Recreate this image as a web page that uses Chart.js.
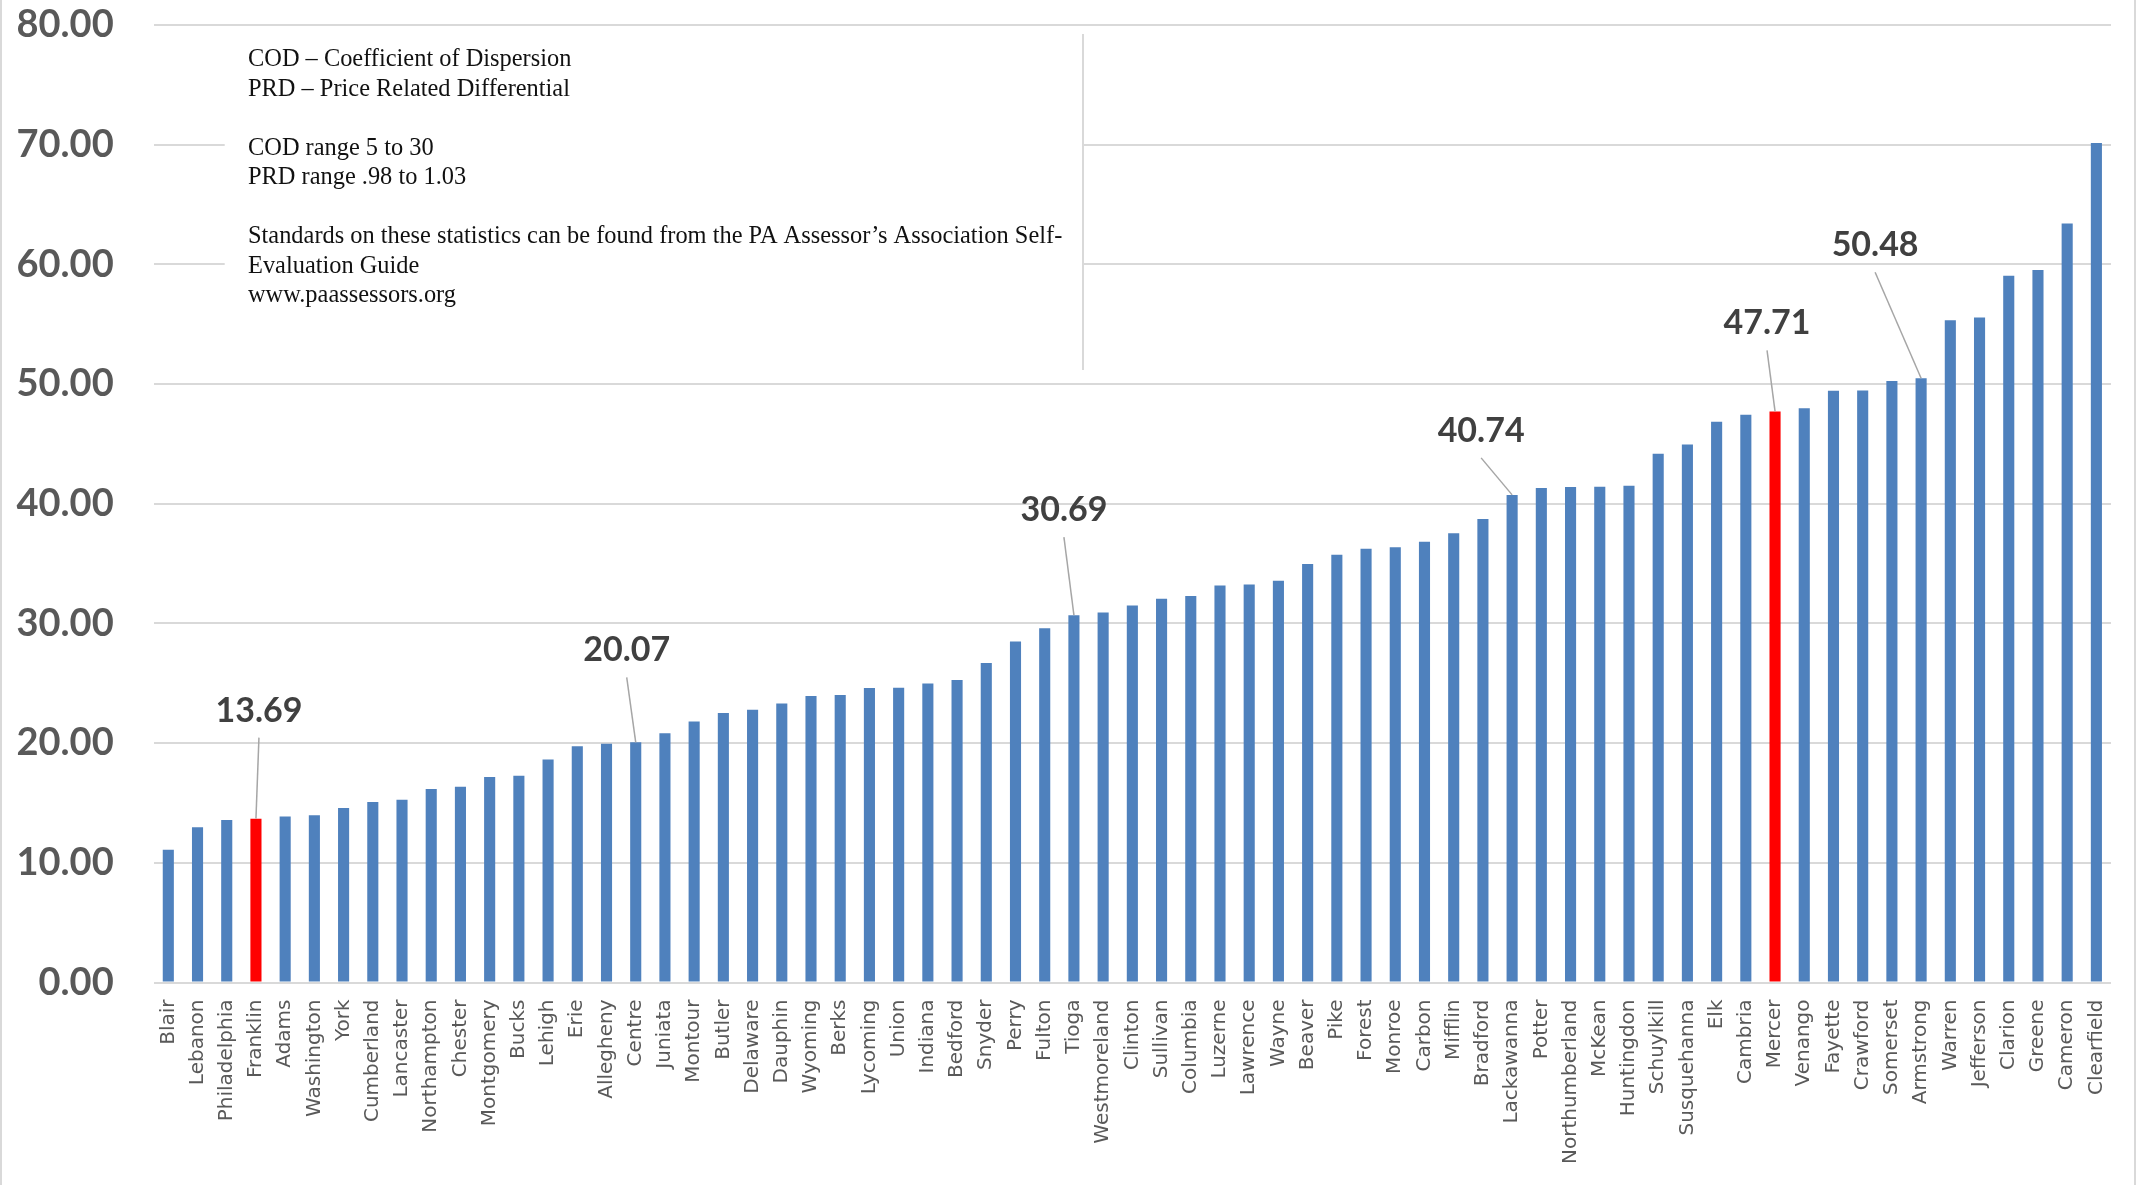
<!DOCTYPE html>
<html>
<head>
<meta charset="utf-8">
<script src="https://cdn.jsdelivr.net/npm/chart.js@4.4.1/dist/chart.umd.min.js"></script>
<style>
  html, body { margin: 0; padding: 0; background: #ffffff; }
  #wrap { width: 2136px; height: 1185px; position: relative; }
  canvas { display: block; }
</style>
</head>
<body>
<div id="wrap"><canvas id="c" width="2136" height="1185"></canvas></div>
<script>
// ---- data ----
const counties = ["Blair","Lebanon","Philadelphia","Franklin","Adams","Washington","York","Cumberland","Lancaster","Northampton","Chester","Montgomery","Bucks","Lehigh","Erie","Allegheny","Centre","Juniata","Montour","Butler","Delaware","Dauphin","Wyoming","Berks","Lycoming","Union","Indiana","Bedford","Snyder","Perry","Fulton","Tioga","Westmoreland","Clinton","Sullivan","Columbia","Luzerne","Lawrence","Wayne","Beaver","Pike","Forest","Monroe","Carbon","Mifflin","Bradford","Lackawanna","Potter","Northumberland","McKean","Huntingdon","Schuylkill","Susquehanna","Elk","Cambria","Mercer","Venango","Fayette","Crawford","Somerset","Armstrong","Warren","Jefferson","Clarion","Greene","Cameron","Clearfield"];
const codValues = [11.10,12.98,13.58,13.69,13.86,13.97,14.58,15.08,15.27,16.16,16.36,17.16,17.27,18.63,19.74,19.94,20.07,20.83,21.81,22.51,22.79,23.32,23.93,24.02,24.60,24.62,24.99,25.27,26.70,28.49,29.60,30.69,30.91,31.49,32.07,32.29,33.18,33.26,33.57,34.96,35.74,36.24,36.36,36.83,37.53,38.72,40.74,41.31,41.40,41.42,41.51,44.18,44.96,46.86,47.44,47.71,47.97,49.45,49.47,50.25,50.48,55.34,55.57,59.04,59.53,63.41,70.14];
const highlighted = ["Franklin","Mercer"];
const labeledCounties = ["Franklin","Centre","Tioga","Lackawanna","Mercer","Armstrong"];
const yTicks = [0,10,20,30,40,50,60,70,80];
const noteLines = [
  "COD \u2013 Coefficient of Dispersion",
  "PRD \u2013 Price Related Differential",
  "",
  "COD range 5 to 30",
  "PRD range .98 to 1.03",
  "",
  "Standards on these statistics can be found from the PA Assessor\u2019s Association Self-",
  "Evaluation Guide",
  "www.paassessors.org"
];

// ---- styles (label offsets in px relative to bar top) ----
const labelOffsets = {
  Franklin:   [3, -108],
  Centre:     [-9, -92],
  Tioga:      [-10, -105],
  Lackawanna: [-31, -64],
  Mercer:     [-8, -88],
  Armstrong:  [-46, -133]
};
const BLUE = "#4f81bd", RED = "#ff0000";
const barColors = counties.map(c => highlighted.includes(c) ? RED : BLUE);

const annotationsPlugin = {
  id: "annot",
  beforeDatasetsDraw(chart) {
    const ctx = chart.ctx;
    const a = chart.chartArea;
    // note box covering gridlines
    const bx = a.left + 71, by = 34, bw = 1083 - bx, bh = 370 - by;
    ctx.save();
    ctx.fillStyle = "#ffffff";
    ctx.fillRect(bx, by, bw, bh);
    ctx.strokeStyle = "#d9d9d9";
    ctx.lineWidth = 2;
    ctx.beginPath();
    ctx.moveTo(bx + bw, by);
    ctx.lineTo(bx + bw, by + bh);
    ctx.stroke();
    ctx.fillStyle = "#111111";
    ctx.font = "24.4px 'Liberation Serif', 'Times New Roman', serif";
    ctx.textBaseline = "middle";
    ctx.textAlign = "left";
    noteLines.forEach((t, i) => {
      if (t) ctx.fillText(t, 248, 60 + i * 29.45);
    });
    ctx.restore();
  },
  afterDatasetsDraw(chart) {
    const ctx = chart.ctx;
    const meta = chart.getDatasetMeta(0);
    ctx.save();
    labeledCounties.forEach(name => {
      const i = counties.indexOf(name);
      const el = meta.data[i];
      const off = labelOffsets[name];
      const lx = el.x + off[0], ly = el.y + off[1];
      ctx.strokeStyle = "#a6a6a6";
      ctx.lineWidth = 1.5;
      ctx.beginPath();
      ctx.moveTo(lx, ly + 27);
      ctx.lineTo(el.x, el.y);
      ctx.stroke();
      ctx.fillStyle = "#404040";
      ctx.font = "bold 34px Lato, 'Open Sans', sans-serif";
      ctx.textAlign = "center";
      ctx.textBaseline = "middle";
      ctx.fillText(codValues[i].toFixed(2), lx, ly);
    });
    ctx.restore();
  },
  afterDraw(chart) {
    const ctx = chart.ctx;
    ctx.save();
    ctx.fillStyle = "#d9d9d9";
    ctx.fillRect(0, 0, 2, chart.height);
    ctx.fillRect(chart.width - 2, 0, 2, chart.height);
    ctx.restore();
  }
};

new Chart(document.getElementById("c"), {
  type: "bar",
  data: {
    labels: counties,
    datasets: [{
      data: codValues,
      backgroundColor: barColors,
      borderWidth: 0,
      barPercentage: 0.38,
      categoryPercentage: 1.0
    }]
  },
  options: {
    responsive: false,
    devicePixelRatio: 1,
    animation: false,
    layout: { padding: { left: 0, right: 25, top: 25, bottom: 0 } },
    plugins: { legend: { display: false }, tooltip: { enabled: false } },
    scales: {
      x: {
        grid: { display: false, drawTicks: false },
        border: { display: false },
        ticks: {
          autoSkip: false,
          maxRotation: 90,
          minRotation: 90,
          padding: 17,
          color: "#595959",
          font: { family: "'DejaVu Sans', Verdana, sans-serif", size: 20 }
        },
        afterFit(scale) { scale.height = 202.5; scale.paddingLeft = 0; scale.paddingRight = 0; }
      },
      y: {
        min: 0,
        max: 80,
        afterBuildTicks(scale) { scale.ticks = yTicks.map(v => ({ value: v })); },
        grid: { color: "#d9d9d9", lineWidth: 2, drawTicks: false },
        border: { display: false },
        ticks: {
          padding: 40,
          color: "#595959",
          font: { family: "Lato, 'Open Sans', sans-serif", size: 38, weight: "bold" },
          callback: v => Number(v).toFixed(2)
        },
        afterFit(scale) { scale.width = 153.7; scale.paddingTop = 0; scale.paddingBottom = 0; }
      }
    }
  },
  plugins: [annotationsPlugin]
});
</script>
</body>
</html>
